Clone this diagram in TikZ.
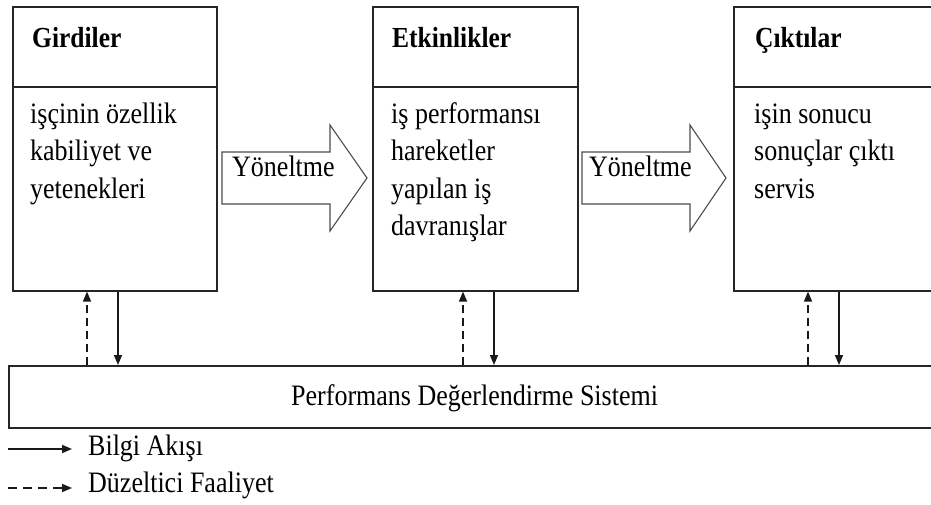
\documentclass[tikz,border=0pt]{standalone}
\usepackage{fontspec}
\setmainfont{Liberation Serif}
\usetikzlibrary{arrows.meta}
\newcommand{\tallt}[1]{\scalebox{1}[1.14]{#1}}
\begin{document}
\begin{tikzpicture}[x=1pt,y=-1pt,
  boxline/.style={line width=1.6pt, draw=black!85},
  boxshape/.style={boxline, rectangle, inner sep=0pt, anchor=north west},
  titletext/.style={anchor=base west, inner sep=0pt, font=\fontsize{25.5}{37}\selectfont\bfseries},
  bodytext/.style={anchor=base west, inner sep=0pt, font=\fontsize{26}{37}\selectfont},
  blockarrow/.style={draw=black!70, line width=1.1pt, fill=white, line join=miter},
  flow/.style={line width=1.5pt, draw=black!90, -{Triangle[length=10pt,width=8pt]}},
  fix/.style={flow, dash pattern=on 8pt off 5pt}]
\clip (0,0) rectangle (931,505);
\fill[white] (0,0) rectangle (931,505);

% boxes
\node[boxshape, minimum width=204pt, minimum height=284pt] (b1) at (12,6) {};
\node[boxshape, minimum width=205pt, minimum height=284pt] (b2) at (372,6) {};
\node[boxshape, minimum width=220pt, minimum height=284pt] (b3) at (733,6) {};
\draw[boxline] (b1.west |- 0,87) -- (b1.east |- 0,87);
\draw[boxline] (b2.west |- 0,87) -- (b2.east |- 0,87);
\draw[boxline] (b3.west |- 0,87) -- (b3.east |- 0,87);

% titles
\node[titletext] (t1) at (32,48) {\tallt{Girdiler}};
\node[titletext] (t2) at (392,48) {\tallt{Etkinlikler}};
\node[titletext] (t3) at (755,48) {\tallt{Çıktılar}};

% body texts
\node[bodytext] (a1) at (30,124) {\tallt{işçinin özellik}};
\node[bodytext] (a2) at (30,161) {\tallt{kabiliyet ve}};
\node[bodytext] (a3) at (30,198) {\tallt{yetenekleri}};

\node[bodytext] (e1) at (391,124) {\tallt{iş performansı}};
\node[bodytext] (e2) at (391,161) {\tallt{hareketler}};
\node[bodytext] (e3) at (391,198) {\tallt{yapılan iş}};
\node[bodytext] (e4) at (391,235) {\tallt{davranışlar}};

\node[bodytext] (c1) at (754,124) {\tallt{işin sonucu}};
\node[bodytext] (c2) at (754,161) {\tallt{sonuçlar çıktı}};
\node[bodytext] (c3) at (754,198) {\tallt{servis}};

% block arrows
\draw[blockarrow] (222,152) -- (330,152) -- (330,125) -- (367,178) -- (330,231) -- (330,204) -- (222,204) -- cycle;
\node[bodytext] (y1) at (232,177) {\tallt{Yöneltme}};
\draw[blockarrow] (582,152) -- (690,152) -- (690,125) -- (726,178) -- (690,231) -- (690,204) -- (582,204) -- cycle;
\node[bodytext] (y2) at (589,177) {\tallt{Yöneltme}};

% performance system
\node[boxshape, minimum width=960pt, minimum height=62pt] (perf) at (8,365) {};
\node[bodytext] (ptext) at (291,405) {\tallt{Performans Değerlendirme Sistemi}};

% feedback arrows
\draw[fix]  (perf.north -| 87,0)  -- (b1.south -| 87,0);
\draw[flow] (b1.south -| 118,0)   -- (perf.north -| 118,0);
\draw[fix]  (perf.north -| 463,0) -- (b2.south -| 463,0);
\draw[flow] (b2.south -| 494,0)   -- (perf.north -| 494,0);
\draw[fix]  (perf.north -| 808,0) -- (b3.south -| 808,0);
\draw[flow] (b3.south -| 839,0)   -- (perf.north -| 839,0);

% legend
\coordinate (l1s) at (8,449);
\coordinate (l1e) at (72,449);
\coordinate (l2s) at (8,488);
\coordinate (l2e) at (72,488);
\draw[flow] (l1s) -- (l1e);
\draw[fix, dash pattern=on 9pt off 6pt] (l2s) -- (l2e);
\node[bodytext] (lg1) at (88,455) {\tallt{Bilgi Akışı}};
\node[bodytext] (lg2) at (88,492) {\tallt{Düzeltici Faaliyet}};
\end{tikzpicture}
\end{document}
